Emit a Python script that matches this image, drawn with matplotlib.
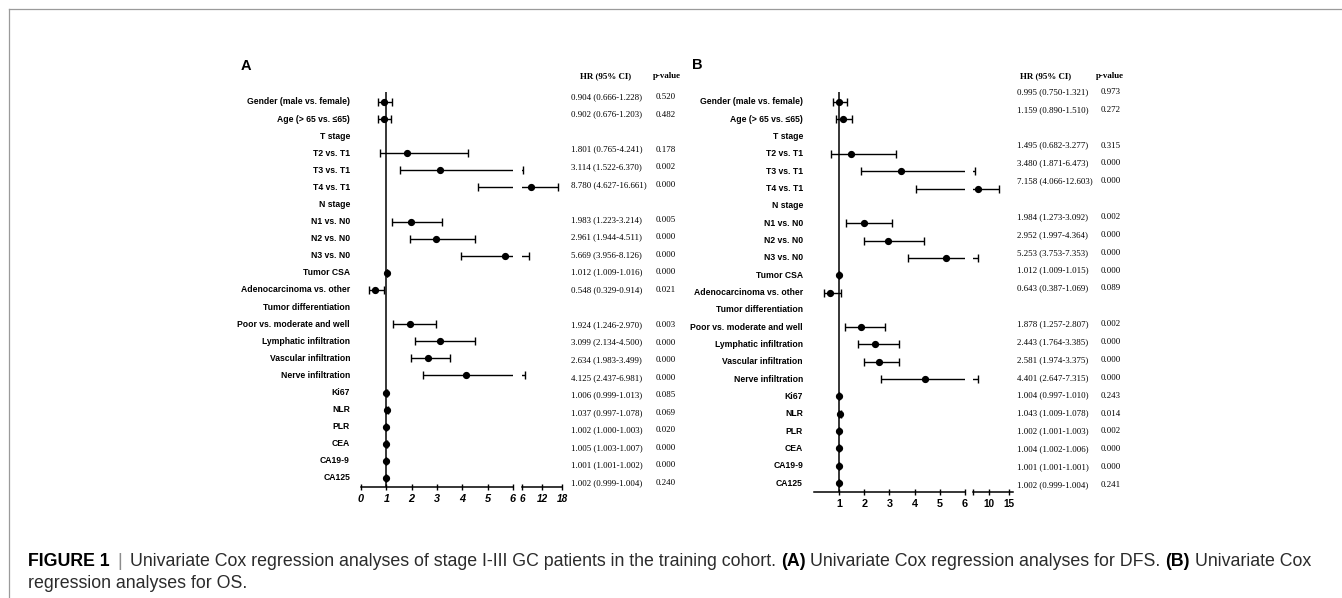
import numpy as np
import matplotlib
matplotlib.use("Agg")
import matplotlib.pyplot as plt
import matplotlib.transforms as mtransforms
from matplotlib import font_manager
from matplotlib.lines import Line2D

W, H = 1342, 598

labels = ["Gender (male vs. female)", "Age (> 65 vs. \u226465)", "T stage",
          "T2 vs. T1", "T3 vs. T1", "T4 vs. T1", "N stage",
          "N1 vs. N0", "N2 vs. N0", "N3 vs. N0", "Tumor CSA",
          "Adenocarcinoma vs. other", "Tumor differentiation",
          "Poor vs. moderate and well", "Lymphatic infiltration",
          "Vascular infiltration", "Nerve infiltration",
          "Ki67", "NLR", "PLR", "CEA", "CA19-9", "CA125"]

nan = np.nan
# (A) DFS
hr_a = [0.904, 0.902, nan, 1.801, 3.114, 8.780, nan, 1.983, 2.961, 5.669, 1.012, 0.548, nan,
        1.924, 3.099, 2.634, 4.125, 1.006, 1.037, 1.002, 1.005, 1.001, 1.002]
lo_a = [0.666, 0.676, nan, 0.765, 1.522, 4.627, nan, 1.223, 1.944, 3.956, 1.009, 0.329, nan,
        1.246, 2.134, 1.983, 2.437, 0.999, 0.997, 1.000, 1.003, 1.001, 0.999]
hi_a = [1.228, 1.203, nan, 4.241, 6.370, 16.661, nan, 3.214, 4.511, 8.126, 1.016, 0.914, nan,
        2.970, 4.500, 3.499, 6.981, 1.013, 1.078, 1.003, 1.007, 1.002, 1.004]
p_a = [0.520, 0.482, nan, 0.178, 0.002, 0.000, nan, 0.005, 0.000, 0.000, 0.000, 0.021, nan,
       0.003, 0.000, 0.000, 0.000, 0.085, 0.069, 0.020, 0.000, 0.000, 0.240]

# (B) OS
hr_b = [0.995, 1.159, nan, 1.495, 3.480, 7.158, nan, 1.984, 2.952, 5.253, 1.012, 0.643, nan,
        1.878, 2.443, 2.581, 4.401, 1.004, 1.043, 1.002, 1.004, 1.001, 1.002]
lo_b = [0.750, 0.890, nan, 0.682, 1.871, 4.066, nan, 1.273, 1.997, 3.753, 1.009, 0.387, nan,
        1.257, 1.764, 1.974, 2.647, 0.997, 1.009, 1.001, 1.002, 1.001, 0.999]
hi_b = [1.321, 1.510, nan, 3.277, 6.473, 12.603, nan, 3.092, 4.364, 7.353, 1.015, 1.069, nan,
        2.807, 3.385, 3.375, 7.315, 1.010, 1.078, 1.003, 1.006, 1.001, 1.004]
p_b = [0.973, 0.272, nan, 0.315, 0.000, 0.000, nan, 0.002, 0.000, 0.000, 0.000, 0.089, nan,
       0.002, 0.000, 0.000, 0.000, 0.243, 0.014, 0.002, 0.000, 0.000, 0.241]

ticks_a1 = [0, 1, 2, 3, 4, 5, 6]
ticks_a2 = [6, 12, 18]
ticks_b1 = [1, 2, 3, 4, 5, 6]
ticks_b2 = [6, 10, 15]
tick_labels_b2 = ["", "10", "15"]

names = {f.name for f in font_manager.fontManager.ttflist}
narrow = "Liberation Sans Narrow" in names
SANS = ["Liberation Sans Narrow" if narrow else "Liberation Sans", "DejaVu Sans"]
SERIF = ["Liberation Serif", "DejaVu Serif"]
k = 1.0 if narrow else 0.82


def fx(x):
    return x / W


def fy(y):
    return 1 - y / H


fig = plt.figure(figsize=(W / 100, H / 100), dpi=100)

# outer frame (top and left edges)
fig.add_artist(Line2D([fx(9), 1.0], [fy(9), fy(9)], color="#9a9a9a", lw=0.9))
fig.add_artist(Line2D([fx(9), fx(9)], [fy(9), 0.0], color="#9a9a9a", lw=0.9))

panels = [
    dict(letter="A", hr=hr_a, lo=lo_a, hi=hi_a, p=p_a, x0=361, x6=513, x2=(522, 562), lim2=(6, 18),
         t1=ticks_a1, t2=ticks_a2, t2lab=None, italic=True, top=92, base=487, row0=102, rowN=478,
         lab_r=350, letter_xy=(241, 66), hr_x=571, hr_hx=606, p_x=656, p_hx=667,
         tab=(97, 483)),
    dict(letter="B", hr=hr_b, lo=lo_b, hi=hi_b, p=p_b, x0=813.8, x6=965, x2=(973, 1013), lim2=(6, 16),
         t1=ticks_b1, t2=ticks_b2, t2lab=tick_labels_b2, italic=False, top=92, base=492, row0=102,
         rowN=483, lab_r=803, letter_xy=(692, 65), hr_x=1017, hr_hx=1046, p_x=1101, p_hx=1110,
         tab=(92, 485)),
]

n = len(labels)
rows = np.arange(n)

for P in panels:
    step = (P["rowN"] - P["row0"]) / (n - 1)
    ylo = (n - 1) + (P["base"] - P["rowN"]) / step
    yhi = -(P["row0"] - P["top"]) / step
    hgt = (P["base"] - P["top"]) / H
    ax1 = fig.add_axes([fx(P["x0"]), fy(P["base"]), (P["x6"] - P["x0"]) / W, hgt])
    ax2 = fig.add_axes([fx(P["x2"][0]), fy(P["base"]), (P["x2"][1] - P["x2"][0]) / W, hgt],
                       sharey=ax1)

    hr = np.array(P["hr"])
    lo = np.array(P["lo"])
    hi = np.array(P["hi"])
    ok = ~np.isnan(hr)

    for ax, lim in ((ax1, (0, 6)), (ax2, P["lim2"])):
        ax.errorbar(hr[ok], rows[ok], xerr=[hr[ok] - lo[ok], hi[ok] - hr[ok]], fmt="none",
                    ecolor="black", elinewidth=1.0, capsize=2.6, capthick=1.0)
        inside = ok & (hr >= lim[0]) & (hr <= lim[1])
        if ax is ax2:
            inside = ok & (hr > 6)
        ax.plot(hr[inside], rows[inside], "o", color="black", ms=4.2, zorder=3)
        ax.set_xlim(*lim)
        for s in ("left", "right", "top"):
            ax.spines[s].set_visible(False)
        ax.spines["bottom"].set_linewidth(1.1)
        ax.tick_params(axis="y", left=False, labelleft=False)
        ax.tick_params(axis="x", direction="inout", length=4.5, width=1.0, pad=2.5)
        ax.patch.set_alpha(0)

    ax1.set_ylim(ylo, yhi)
    ax1.axvline(1, color="black", lw=1.1, zorder=2)

    tick_font = dict(family=SANS, size=7.8 if not narrow else 8.2, weight="bold",
                     style="italic" if P["italic"] else "normal")
    ax1.set_xticks(P["t1"])
    ax1.set_xticklabels([str(t) for t in P["t1"]], fontdict=tick_font)
    ax2.set_xticks(P["t2"])
    ax2.set_xticklabels(P["t2lab"] if P["t2lab"] else [str(t) for t in P["t2"]],
                        fontdict=dict(tick_font, size=tick_font["size"] - 0.6))

    # row labels
    trans = mtransforms.blended_transform_factory(fig.transFigure, ax1.transData)
    for i, lab in enumerate(labels):
        fig.text(fx(P["lab_r"]), i, lab, transform=trans, ha="right", va="center",
                 family=SANS, size=7.6 * k, weight="bold")

    # panel letter
    fig.text(fx(P["letter_xy"][0]), fy(P["letter_xy"][1]), P["letter"], ha="left", va="center",
             family=["Liberation Sans", "DejaVu Sans"], size=10.5, weight="bold")

    # HR / p-value table
    fig.text(fx(P["hr_hx"]), fy(76), "HR (95% CI)", ha="center", va="center",
             family=SERIF, size=6.4, weight="bold")
    fig.text(fx(P["p_hx"]), fy(76), "p-value", ha="center", va="center",
             family=SERIF, size=6.4, weight="bold")
    t0, t1 = P["tab"]
    tstep = (t1 - t0) / (n - 1)
    for i in range(n):
        if np.isnan(P["hr"][i]):
            continue
        yy = fy(t0 + i * tstep)
        fig.text(fx(P["hr_x"]), yy, f"{P['hr'][i]:.3f} ({P['lo'][i]:.3f}-{P['hi'][i]:.3f})",
                 ha="left", va="center", family=SERIF, size=6.4)
        fig.text(fx(P["p_x"]), yy, f"{P['p'][i]:.3f}", ha="left", va="center",
                 family=SERIF, size=6.4)

# caption
renderer = fig.canvas.get_renderer()
cap_dark = "#2b2b2b"
line1 = [("FIGURE 1", "bold", "black"), ("|", "normal", "#8c8c8c"),
         ("Univariate Cox regression analyses of stage I-III GC patients in the training cohort.", "normal", cap_dark),
         ("(A)", "bold", "black"), ("Univariate Cox regression analyses for DFS.", "normal", cap_dark),
         ("(B)", "bold", "black"), ("Univariate Cox", "normal", cap_dark)]
gaps1 = [1.6, 1.6, 1, 1, 1, 1]
line2 = [("regression analyses for OS.", "normal", cap_dark)]
cap_family = SANS


def text_w(s, size, weight):
    t = fig.text(0, 0, s, family=cap_family, size=size, weight=weight)
    w = t.get_window_extent(renderer).width
    t.remove()
    return w


def draw_runs(runs, gaps, x, y, size, draw=True):
    space = text_w("x x", size, "normal") - text_w("xx", size, "normal")
    for j, (s, wt, col) in enumerate(runs):
        t = fig.text(fx(x), fy(y), s, family=cap_family, size=size, weight=wt, color=col,
                     ha="left", va="center")
        w = t.get_window_extent(renderer).width
        if not draw:
            t.remove()
        x += w
        if j < len(gaps):
            x += space * gaps[j]
    return x


size0 = 10.0
end = draw_runs(line1, gaps1, 28, 562, size0, draw=False)
cap_size = size0 * (1318 - 28) / (end - 28)
draw_runs(line1, gaps1, 28, 562, cap_size)
draw_runs(line2, [], 28, 584, cap_size)

fig.savefig("out.png", dpi=100)
